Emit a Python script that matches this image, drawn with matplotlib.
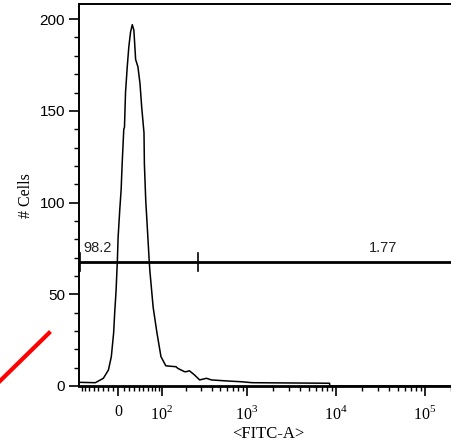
import matplotlib
matplotlib.use("Agg")
import matplotlib.pyplot as plt
from matplotlib.ticker import MultipleLocator, FixedLocator
from matplotlib.lines import Line2D
import numpy as np

plt.rcParams['mathtext.fontset'] = 'custom'
plt.rcParams['mathtext.rm'] = 'Liberation Serif'

# histogram: FITC-A channel value vs. number of cells
fitc = [-87, -46, -29, -19, -13.4, -9, -7, -4.4, -1.9, -0.6, 2.5, 5.1, 7.0, 10.1,
        11.4, 13.4, 16.7, 19.8, 23.2, 26.6, 29.8, 33.4, 38.2, 42.6, 46.4, 51.6,
        52.5, 55.7, 59.8, 63.9, 65.7, 74.3, 84.9, 97, 113, 153, 161, 194, 203,
        222, 255, 292, 350, 400, 623, 883, 1150, 8540, 8600, 262000]
cells = [2, 1.8, 4.2, 8.7, 16, 29, 40, 52, 69, 81, 96, 107, 121, 140,
         141, 160, 174, 185, 193, 197, 194, 178, 174, 165, 152, 138,
         121, 101, 85, 69, 63, 43, 29, 16, 11, 10.5, 9.6, 7.8, 7.8,
         8.3, 6, 3.3, 4.2, 3.3, 2.7, 2.3, 1.8, 1.5, 0, 0]

# gate: left limit, split point, right limit, height and percentages
gate_x = [-86, 279, 262144]
gate_y = 67.6
gate_pct = ['98.2', '1.77']

x_major = [0, 100, 1000, 10000, 100000]
x_major_labels = ['$0$', '$10^{2}$', '$10^{3}$', '$10^{4}$', '$10^{5}$']

C = 72.6  # width of the linear zone around zero


def fwd(x):
    return np.arcsinh(np.asarray(x) / C)


def inv(y):
    return C * np.sinh(np.asarray(y))


fig = plt.figure(figsize=(4.52, 4.48), dpi=100)
ax = fig.add_axes([0.1748, 0.1384, 0.8472, 0.8516])
ax.set_xscale('function', functions=(fwd, inv))
ax.set_xlim(-87.5, 262144)
ax.set_ylim(0, 208)

ax.plot(fitc, cells, color='black', lw=1.1)

# gate bar with end ticks
ax.plot([gate_x[0], gate_x[-1]], [gate_y, gate_y], color='black', lw=2.0)
for gx in gate_x:
    ax.plot([gx, gx], [gate_y - 5, gate_y + 5], color='black', lw=1.2)
ax.text(-76, gate_y + 4, gate_pct[0], ha='left', va='bottom',
        fontsize=10.5, family='Liberation Sans', color='#222222')
ax.text(34400, gate_y + 4, gate_pct[1], ha='center', va='bottom',
        fontsize=10.5, family='Liberation Sans', color='#222222')

# axes styling
for side in ['left', 'bottom', 'top']:
    ax.spines[side].set_linewidth(1.4)
ax.spines['bottom'].set_linewidth(2.0)
ax.spines['right'].set_visible(False)

ax.yaxis.set_major_locator(MultipleLocator(50))
ax.yaxis.set_minor_locator(MultipleLocator(10))
ax.tick_params(axis='y', which='major', direction='out', length=7, width=1.2,
               labelsize=11, pad=3)
ax.tick_params(axis='y', which='minor', direction='out', length=3.5, width=1.0)
for lab in ax.get_yticklabels():
    lab.set_family('Liberation Sans')

minor = list(range(-80, 0, 10)) + list(range(10, 100, 10))
for k in range(2, 6):
    minor += [m * 10 ** k for m in range(2, 10)]
ax.xaxis.set_major_locator(FixedLocator(x_major))
ax.xaxis.set_minor_locator(FixedLocator(minor))
ax.set_xticklabels(x_major_labels)
ax.tick_params(axis='x', which='major', direction='out', length=7, width=1.2,
               labelsize=11.5, pad=6)
ax.tick_params(axis='x', which='minor', direction='out', length=3.5, width=1.0)

ax.set_xlabel('<FITC-A>', family='Liberation Serif', fontsize=12)
ax.xaxis.set_label_coords((268 - 79) / (0.8472 * 452), -0.105)
ax.set_ylabel('# Cells', family='Liberation Serif', fontsize=11.5)
ax.yaxis.set_label_coords(-0.118, 0.50)

# red marker stroke in the lower-left corner
fig.add_artist(Line2D([0 / 452, 49 / 452], [1 - 381 / 448, 1 - 333 / 448],
                      color='#ff0000', lw=3, transform=fig.transFigure))

fig.savefig('out.png', dpi=100)
